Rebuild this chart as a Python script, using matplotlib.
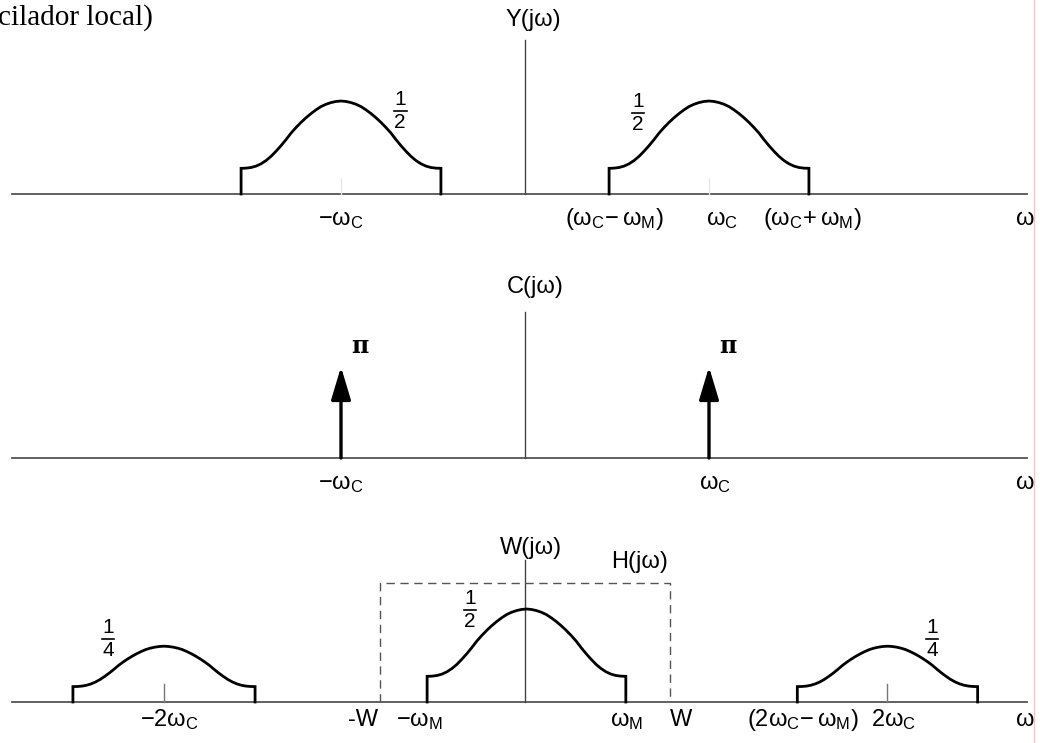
import matplotlib.pyplot as plt
from matplotlib.lines import Line2D

plt.rcParams['font.family'] = ['Liberation Sans', 'DejaVu Sans']
plt.rcParams['mathtext.fontset'] = 'custom'
plt.rcParams['mathtext.rm'] = 'Liberation Sans'
plt.rcParams['mathtext.it'] = 'Liberation Sans'
plt.rcParams['mathtext.sf'] = 'Liberation Sans'

# frequencies in units of omega_c
wc = 1.0
wM = 0.543
W = 0.79
x_left, x_right = -2.79, 2.73

# shape of one lobe (u: 0 = centre, 1 = edge; h relative to peak)
lobe_u = [0, .05, .10, .15, .20, .25, .30, .35, .40, .45, .50,
          .55, .60, .65, .70, .75, .80, .85, .90, .95, 1.0]
lobe_h = [1.0, .995, .983, .965, .94, .905, .865, .82, .77, .715, .655,
          .585, .52, .46, .405, .36, .325, .30, .285, .278, .276]

# Y(jw): modulated spectrum
y_centres = [-wc, wc]
y_halfw = [wM, wM]
y_heights = [0.5, 0.5]
y_amp = [('1', '2'), ('1', '2')]
y_ticks = ['$-\\omega_\\mathrm{C}$', '$(\\omega_\\mathrm{C}\\!-\\omega_\\mathrm{M})$',
           '$\\omega_\\mathrm{C}$', '$(\\omega_\\mathrm{C}\\!+\\omega_\\mathrm{M})$']

# C(jw): local oscillator impulses
c_pos = [-wc, wc]
c_heights = [0.49, 0.49]
c_amp = ['π', 'π']
c_ticks = ['$-\\omega_\\mathrm{C}$', '$\\omega_\\mathrm{C}$']

# W(jw): product spectrum
w_centres = [-1.962, 0.008, 1.97]
w_halfw = [0.495, 0.54, 0.49]
w_heights = [0.30, 0.5, 0.30]
w_amp = [('1', '4'), ('1', '2'), ('1', '4')]
w_ticks = ['$-2\\omega_\\mathrm{C}$', '-W', '$-\\omega_\\mathrm{M}$', '$\\omega_\\mathrm{M}$', 'W',
           '$(2\\omega_\\mathrm{C}\\!-\\omega_\\mathrm{M})$', '$2\\omega_\\mathrm{C}$']

FS = 17
fig = plt.figure(figsize=(10.41, 7.43), dpi=100)


def panel(top_px, bottom_px, base_px, vtop):
    ax = fig.add_axes([0, 1 - bottom_px / 743, 1, (bottom_px - top_px) / 743])
    ax.set_xlim(-525 / 184, 516 / 184)
    ax.set_ylim(-(bottom_px - base_px) / 186, (base_px - top_px) / 186)
    ax.axis('off')
    ax.plot([x_left, x_right], [0, 0], color='#555555', lw=1.3)
    ax.plot([0, 0], [0, vtop], color='#444444', lw=1.0)
    return ax


def lobe(ax, c, hw, h):
    xs = [c - hw] + [c - hw * u for u in lobe_u[::-1]] + [c + hw * u for u in lobe_u[1:]] + [c + hw]
    ys = [0] + [h * v for v in lobe_h[::-1]] + [h * v for v in lobe_h[1:]] + [0]
    ax.plot(xs, ys, color='k', lw=2.0, solid_joinstyle='miter')


def frac(ax, x, y, num, den, fs=15):
    ax.text(x, y + 0.012, num, ha='center', va='bottom', fontsize=fs)
    ax.text(x, y - 0.012, den, ha='center', va='top', fontsize=fs)
    ax.plot([x - 0.035, x + 0.035], [y, y], color='k', lw=1.2)


# ---- Y(jw)
ax1 = panel(0, 250, 194, 0.83)
for c, hw, h in zip(y_centres, y_halfw, y_heights):
    lobe(ax1, c, hw, h)
    ax1.plot([c, c], [0, 0.08], color='#e6e6e6', lw=1)
frac(ax1, -0.679, 0.446, *y_amp[0])
frac(ax1, 0.614, 0.435, *y_amp[1])
ax1.text(0.043, 0.935, 'Y(jω)', ha='center', va='center', fontsize=FS)
yb = -0.167
ax1.text(-wc, yb, y_ticks[0], ha='center', va='baseline', fontsize=FS)
ax1.text(wc - wM + 0.03, yb, y_ticks[1], ha='center', va='baseline', fontsize=FS)
ax1.text(wc + 0.07, yb, y_ticks[2], ha='center', va='baseline', fontsize=FS)
ax1.text(wc + wM + 0.02, yb, y_ticks[3], ha='center', va='baseline', fontsize=FS)
ax1.text(2.717, yb, 'ω', ha='center', va='baseline', fontsize=FS)

# ---- C(jw)
ax2 = panel(250, 500, 458, 0.785)
for p, h, lab in zip(c_pos, c_heights, c_amp):
    ax2.annotate('', xy=(p, h), xytext=(p, 0),
                 arrowprops=dict(arrowstyle='-|>,head_length=1.0,head_width=0.3',
                                 color='k', lw=2.4, shrinkA=0, shrinkB=0, mutation_scale=20))
    ax2.text(p + 0.1, 0.6, lab, ha='center', va='center', fontsize=17,
             family='DejaVu Serif', fontweight='bold')
ax2.text(0.054, 0.919, 'C(jω)', ha='center', va='center', fontsize=FS)
cb = -0.167
ax2.text(-wc, cb, c_ticks[0], ha='center', va='baseline', fontsize=FS)
ax2.text(wc + 0.03, cb, c_ticks[1], ha='center', va='baseline', fontsize=FS)
ax2.text(2.717, cb, 'ω', ha='center', va='baseline', fontsize=FS)

# ---- W(jw)
ax3 = panel(500, 743, 702, 0.763)
for c, hw, h in zip(w_centres, w_halfw, w_heights):
    lobe(ax3, c, hw, h)
for c in (w_centres[0], w_centres[2]):
    ax3.plot([c, c], [0, 0.095], color='#777777', lw=1)
ax3.plot([-W, -W, W, W], [0, 0.64, 0.64, 0], color='#555555', lw=1, ls=(0, (6, 4)))
frac(ax3, -2.266, 0.339, *w_amp[0])
frac(ax3, -0.299, 0.495, *w_amp[1])
frac(ax3, 2.212, 0.339, *w_amp[2])
ax3.text(0.03, 0.83, 'W(jω)', ha='center', va='center', fontsize=FS)
ax3.text(0.625, 0.755, 'H(jω)', ha='center', va='center', fontsize=FS)
wb = -0.13
ax3.text(w_centres[0] + 0.03, wb, w_ticks[0], ha='center', va='baseline', fontsize=FS)
ax3.text(-W - 0.01, wb, w_ticks[1], ha='right', va='baseline', fontsize=FS)
ax3.text(-wM - 0.03, wb, w_ticks[2], ha='center', va='baseline', fontsize=FS)
ax3.text(wM + 0.01, wb, w_ticks[3], ha='center', va='baseline', fontsize=FS)
ax3.text(W, wb, w_ticks[4], ha='left', va='baseline', fontsize=FS)
ax3.text(1.511, wb, w_ticks[5], ha='center', va='baseline', fontsize=FS)
ax3.text(2.0, wb, w_ticks[6], ha='center', va='baseline', fontsize=FS)
ax3.text(2.717, wb, 'ω', ha='center', va='baseline', fontsize=FS)

# partial caption at top-left and the page margin line
fig.text(-2 / 1041, 1 - 18 / 743, 'cilador local)', ha='left', va='center',
         fontsize=21, family='Liberation Serif')
fig.add_artist(Line2D([1034 / 1041] * 2, [0, 1], color='#ffc4c4', lw=1))

fig.savefig('out.png', dpi=100)
